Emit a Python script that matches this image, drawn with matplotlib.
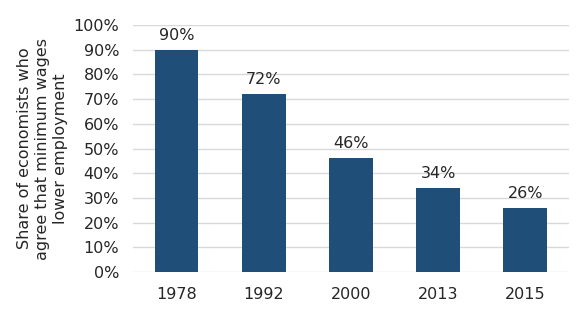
import matplotlib
matplotlib.use("Agg")
import matplotlib.pyplot as plt
from matplotlib.ticker import PercentFormatter

years = ["1978", "1992", "2000", "2013", "2015"]
share = [90, 72, 46, 34, 26]

BAR_COLOR = "#1F4E79"
TEXT_COLOR = "#262626"
GRID_COLOR = "#D9D9D9"

plt.rcParams["font.family"] = "DejaVu Sans"
plt.rcParams["font.size"] = 11.5

fig = plt.figure(figsize=(5.81, 3.29), dpi=100)
ax = fig.add_axes([0.229, 0.173, 0.75, 0.751])

x = range(len(years))
bars = ax.bar(x, share, width=0.5, color=BAR_COLOR, zorder=3)
for b, v in zip(bars, share):
    ax.annotate(f"{v}%", (b.get_x() + b.get_width() / 2, v),
                xytext=(0, 5), textcoords="offset points",
                ha="center", va="bottom", color=TEXT_COLOR)

ax.set_xlim(-0.5, 4.5)
ax.set_ylim(0, 100)
ax.set_yticks(range(0, 101, 10))
ax.yaxis.set_major_formatter(PercentFormatter(decimals=0))
ax.set_xticks(list(x))
ax.set_xticklabels(years)

ax.grid(axis="y", color=GRID_COLOR, linewidth=1, zorder=0)
for s in ax.spines.values():
    s.set_visible(False)
ax.tick_params(length=0, colors=TEXT_COLOR)
ax.tick_params(axis="y", pad=10)
ax.tick_params(axis="x", pad=11)

ax.set_ylabel("Share of economists who\nagree that minimum wages\nlower employment",
              color=TEXT_COLOR, labelpad=4, linespacing=1.25)

fig.savefig("out.png", dpi=100)
